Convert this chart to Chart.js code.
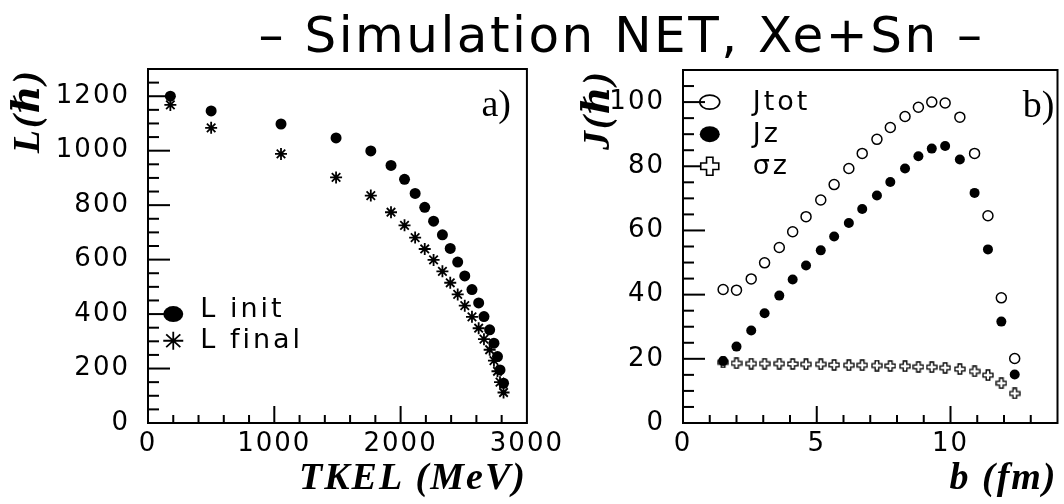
<!DOCTYPE html>
<html>
<head>
<meta charset="utf-8">
<script src="https://cdn.jsdelivr.net/npm/chart.js@4.4.0/dist/chart.umd.min.js"></script>
<style>
html, body { margin: 0; padding: 0; background: #fff; }
body { width: 1064px; height: 504px; position: relative; overflow: hidden; }
#title {
    position: absolute; left: 0; top: 10px; width: 1243px;
    text-align: center; white-space: nowrap;
    font-family: 'DejaVu Sans'; font-size: 50px; line-height: 50px;
    letter-spacing: 2.5px; color: #000;
}
#left { position: absolute; left: 0; top: 0; }
#right { position: absolute; left: 570px; top: 0; }
</style>
</head>
<body>
<div id="title">– Simulation NET, Xe+Sn –</div>
<canvas id="left" width="570" height="504"></canvas>
<canvas id="right" width="494" height="504"></canvas>
<script>
// panel a) : L vs TKEL
var tkel   = [177, 500, 1053, 1489, 1764, 1924, 2031, 2115, 2191, 2261, 2331,
              2393, 2452, 2508, 2565, 2618, 2660, 2705, 2739, 2767, 2787, 2815];
var lInit  = [1200, 1146, 1098, 1047, 999, 946, 895, 843, 792, 741, 691,
              641, 591, 540, 490, 441, 391, 342, 293, 244, 195, 146];
var lFinal = [1168, 1084, 988, 902, 835, 774, 726, 681, 639, 599, 557,
              515, 472, 431, 390, 348, 308, 269, 229, 190, 150, 112];
var tkelTicks = [0, 1000, 2000, 3000];
var lTicks    = [0, 200, 400, 600, 800, 1000, 1200];

// panel b) : J vs b
var bImpact = [1.5, 2.0, 2.55, 3.05, 3.6, 4.1, 4.6, 5.15, 5.65, 6.2, 6.7,
               7.25, 7.75, 8.3, 8.8, 9.3, 9.8, 10.35, 10.9, 11.4, 11.9, 12.4];
var jTot   = [41.6, 41.4, 44.9, 49.9, 54.7, 59.6, 64.3, 69.5, 74.3, 79.3, 84.0,
              88.4, 92.1, 95.5, 98.4, 100.0, 99.7, 95.3, 84.0, 64.6, 39.0, 20.1];
var jZ     = [19.3, 23.8, 28.8, 34.2, 39.7, 44.7, 49.1, 53.8, 58.1, 62.3, 66.7,
              70.9, 75.1, 79.3, 83.1, 85.5, 86.3, 82.1, 71.7, 54.1, 31.6, 15.1];
var sigmaZ = [18.9, 18.6, 18.5, 18.5, 18.5, 18.4, 18.3, 18.3, 18.1, 18.0, 18.0,
              17.9, 17.8, 17.7, 17.5, 17.4, 17.2, 16.8, 16.1, 14.9, 12.4, 9.2];
var bTicks = [0, 5, 10];
var jTicks = [0, 20, 40, 60, 80, 100];

function pairs(xs, ys) {
    return xs.map(function(x, i) { return {x: x, y: ys[i]}; });
}

function plusPath(g, cx, cy, r, a) {
    g.beginPath();
    g.moveTo(cx - a, cy - r); g.lineTo(cx + a, cy - r); g.lineTo(cx + a, cy - a);
    g.lineTo(cx + r, cy - a); g.lineTo(cx + r, cy + a); g.lineTo(cx + a, cy + a);
    g.lineTo(cx + a, cy + r); g.lineTo(cx - a, cy + r); g.lineTo(cx - a, cy + a);
    g.lineTo(cx - r, cy + a); g.lineTo(cx - r, cy - a); g.lineTo(cx - a, cy - a);
    g.closePath();
}

var plusMark = (function() {
    var c = document.createElement('canvas');
    c.width = 12; c.height = 12;
    var g = c.getContext('2d');
    plusPath(g, 6, 6, 5, 1.8);
    g.fillStyle = '#fff'; g.fill();
    g.lineWidth = 1.3; g.strokeStyle = '#000'; g.stroke();
    return c;
})();

function drawMarker(ctx, kind, x, y) {
    ctx.save();
    ctx.strokeStyle = '#000'; ctx.fillStyle = '#000';
    if (kind === 'dot') {
        ctx.beginPath(); ctx.ellipse(x, y, 10, 8, 0, 0, 2 * Math.PI); ctx.fill();
    } else if (kind === 'ring') {
        ctx.lineWidth = 1.6;
        ctx.beginPath(); ctx.ellipse(x, y, 10, 7, 0, 0, 2 * Math.PI); ctx.stroke();
    } else if (kind === 'star') {
        ctx.lineWidth = 1.8;
        ctx.beginPath();
        for (var k = 0; k < 4; k++) {
            var a = k * Math.PI / 4;
            ctx.moveTo(x - 10 * Math.cos(a), y - 9 * Math.sin(a));
            ctx.lineTo(x + 10 * Math.cos(a), y + 9 * Math.sin(a));
        }
        ctx.stroke();
    } else if (kind === 'plus') {
        ctx.lineWidth = 1.6;
        plusPath(ctx, x, y, 9, 3.2);
        ctx.fillStyle = '#fff'; ctx.fill(); ctx.stroke();
    }
    ctx.restore();
}

// inward tick marks, major ones longer
function tickMarks(ctx, ca, xs, ys, o) {
    var i, p, len, n;
    n = Math.round(o.xMax / o.xMinor);
    for (i = 1; i < n; i++) {
        p = xs.getPixelForValue(i * o.xMinor);
        len = (i % o.xEvery === 0) ? 17 : 8;
        ctx.fillRect(p - 1, ca.bottom - len, 2, len);
    }
    n = Math.round(o.yMax / o.yMinor);
    for (i = 1; i < n; i++) {
        p = ys.getPixelForValue(i * o.yMinor);
        len = (i % o.yEvery === 0) ? 22 : 11;
        ctx.fillRect(ca.left, p - 1, len, 2);
    }
}

// frame, inward ticks, in-plot legend and panel tag
function framePlugin(o) {
    return {
        id: 'frame',
        beforeUpdate: function(chart) { chart.ctx.letterSpacing = '2px'; },
        beforeDraw: function(chart) { chart.ctx.letterSpacing = '2px'; },
        afterDraw: function(chart) {
            var ca = chart.chartArea, ctx = chart.ctx;
            var xs = chart.scales.x, ys = chart.scales.y;
            ctx.save();
            ctx.fillStyle = '#000';
            tickMarks(ctx, ca, xs, ys, o);
            ctx.strokeStyle = '#000';
            ctx.lineWidth = 2;
            ctx.strokeRect(ca.left, ca.top, ca.right - ca.left, ca.bottom - ca.top);

            ctx.letterSpacing = '3px';
            ctx.font = "27px 'DejaVu Sans'";
            ctx.textAlign = 'left';
            ctx.textBaseline = 'alphabetic';
            o.legend.forEach(function(it) {
                var mx = xs.getPixelForValue(it.x), my = ys.getPixelForValue(it.y);
                drawMarker(ctx, it.kind, mx, my);
                ctx.fillStyle = '#000';
                ctx.fillText(it.label, mx + o.textGap, my + it.dy);
            });

            ctx.letterSpacing = '0px';
            ctx.font = "38px 'Liberation Serif'";
            ctx.textAlign = 'right';
            ctx.fillText(o.tag, ca.right - o.tagInset, ca.top + 47);
            ctx.restore();
        }
    };
}

var tickFont = {family: "'DejaVu Sans'", size: 26};
var titleFont = {family: "'Liberation Serif', 'DejaVu Serif'", size: 38, style: 'italic', weight: 'bold'};

function axis(min, max, ticks, title, fitSize, pad, isX) {
    var s = {
        type: 'linear', min: min, max: max,
        grid: {display: false, drawTicks: false},
        border: {display: false},
        afterBuildTicks: function(sc) {
            sc.ticks = ticks.map(function(t) { return {value: t}; });
        },
        ticks: {
            color: '#000', font: tickFont, padding: pad, autoSkip: false, maxRotation: 0,
            callback: function(v) { return String(v); }
        },
        title: {display: true, text: title, color: '#000', font: titleFont, align: 'end'}
    };
    if (isX) {
        s.afterFit = function(sc) { sc.height = fitSize; };
        s.title.padding = {top: 0, bottom: 2};
    } else {
        s.afterFit = function(sc) { sc.width = fitSize; };
        s.title.padding = {top: 6, bottom: 0};
    }
    return s;
}

var leftChart = {
    type: 'scatter',
    data: {
        datasets: [{
            label: 'L init',
            data: pairs(tkel, lInit),
            pointStyle: 'circle', pointRadius: 5.5,
            backgroundColor: '#000', borderColor: '#000', borderWidth: 0,
            order: 0
        }, {
            label: 'L final',
            data: pairs(tkel, lFinal),
            pointStyle: 'star', pointRadius: 6,
            backgroundColor: '#000', borderColor: '#000', borderWidth: 1.8,
            order: 1
        }]
    },
    options: {
        responsive: false,
        animation: false,
        layout: {padding: {left: 0, right: 41, top: 69, bottom: 0}},
        scales: {
            x: axis(0, 3000, tkelTicks, 'TKEL (MeV)', 81, 6, true),
            y: axis(0, 1300, lTicks, 'L(ℏ)', 148, 18, false)
        },
        plugins: {legend: {display: false}, tooltip: {enabled: false}}
    },
    plugins: [framePlugin({
        xMinor: 200, xEvery: 5, xMax: 3000, yMinor: 50, yEvery: 4, yMax: 1300,
        textGap: 27, tag: 'a)', tagInset: 16,
        legend: [
            {kind: 'dot', x: 200, y: 400, label: 'L init', dy: 3},
            {kind: 'star', x: 200, y: 302, label: 'L final', dy: 7}
        ]
    })]
};

var rightChart = {
    type: 'scatter',
    data: {
        datasets: [{
            label: 'Jtot',
            data: pairs(bImpact, jTot),
            pointStyle: 'circle', pointRadius: 5,
            backgroundColor: '#fff', borderColor: '#000', borderWidth: 1.5,
            order: 2
        }, {
            label: 'Jz',
            data: pairs(bImpact, jZ),
            pointStyle: 'circle', pointRadius: 5,
            backgroundColor: '#000', borderColor: '#000', borderWidth: 0,
            order: 0
        }, {
            label: 'σz',
            data: pairs(bImpact, sigmaZ),
            pointStyle: plusMark, pointRadius: 5,
            order: 1
        }]
    },
    options: {
        responsive: false,
        animation: false,
        layout: {padding: {left: 0, right: 1, top: 70, bottom: 0}},
        scales: {
            x: axis(0, 14, bTicks, 'b (fm)', 81, 6, true),
            y: axis(0, 110, jTicks, 'J(ℏ)', 113, 18, false)
        },
        plugins: {legend: {display: false}, tooltip: {enabled: false}}
    },
    plugins: [framePlugin({
        xMinor: 1, xEvery: 5, xMax: 14, yMinor: 5, yEvery: 4, yMax: 110,
        textGap: 43, tag: 'b)', tagInset: 3,
        legend: [
            {kind: 'ring', x: 1, y: 100, label: 'Jtot', dy: 8},
            {kind: 'dot', x: 1, y: 90, label: 'Jz', dy: 8},
            {kind: 'plus', x: 1, y: 80, label: 'σz', dy: 8}
        ]
    })]
};

window.onload = function() {
    new Chart(document.getElementById('left').getContext('2d'), leftChart);
    new Chart(document.getElementById('right').getContext('2d'), rightChart);
};
</script>
</body>
</html>
